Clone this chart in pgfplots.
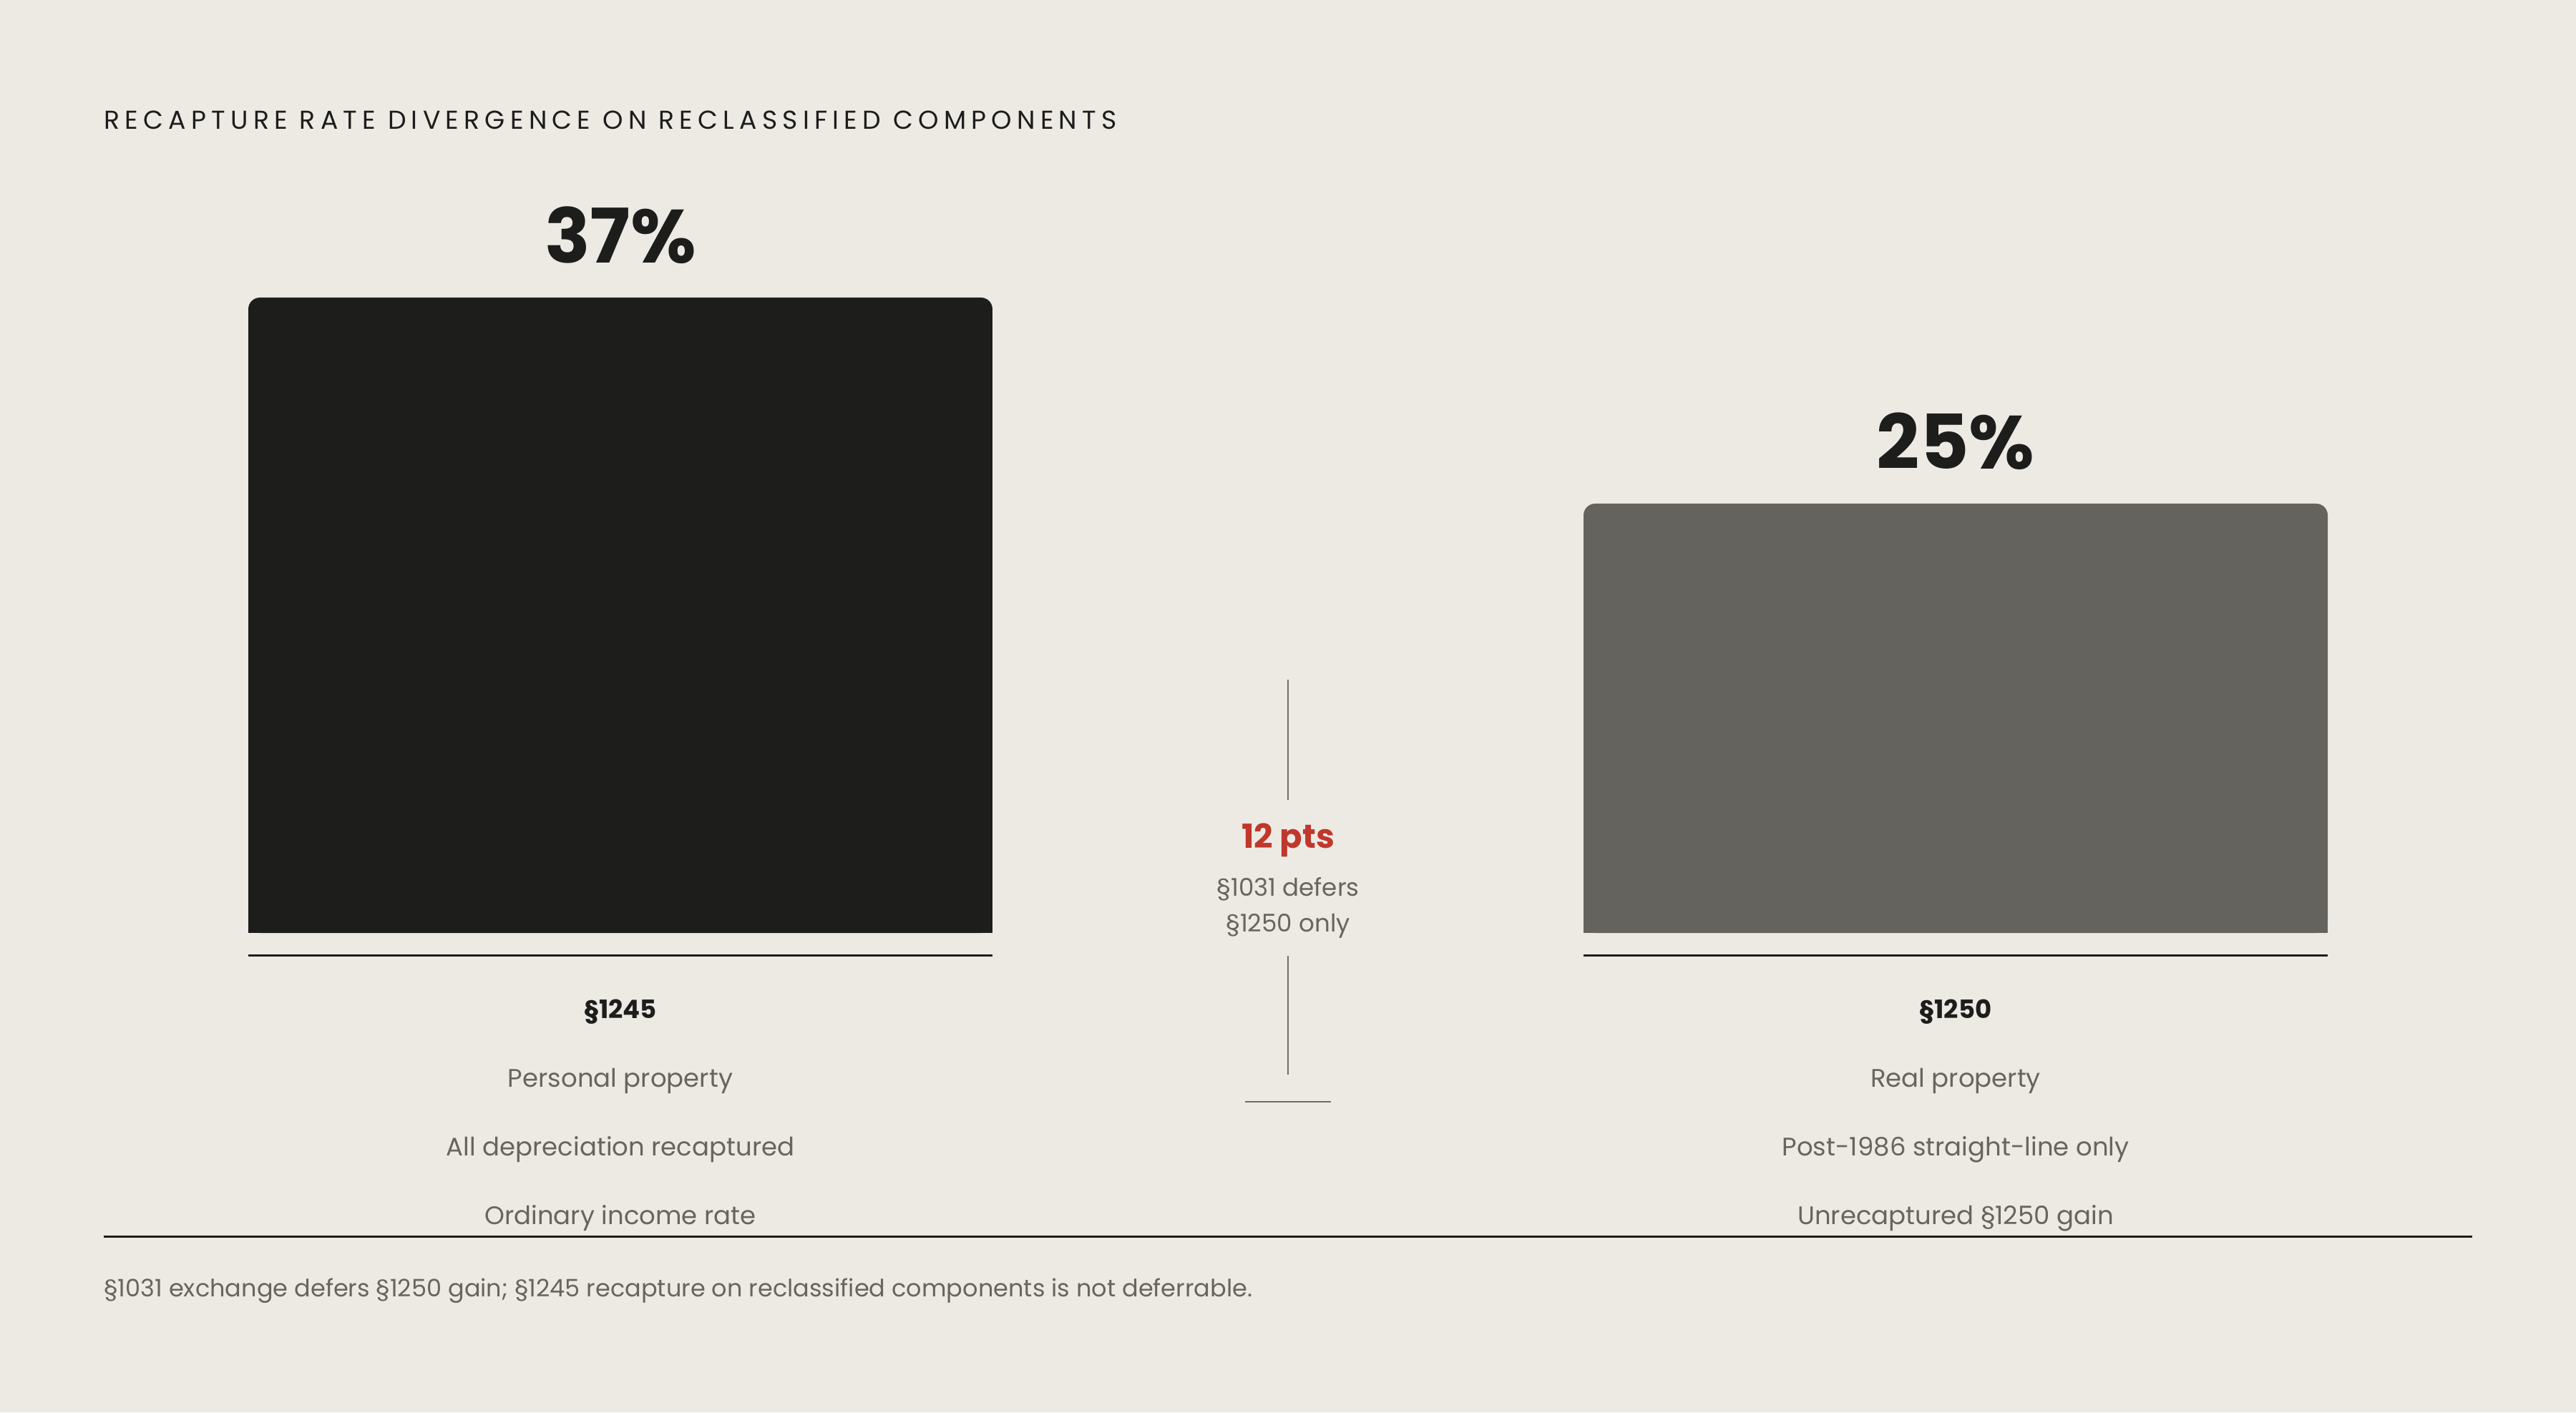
\documentclass[border=0pt]{standalone}
\usepackage{pgfplots}
\pgfplotsset{compat=1.18}
\usepackage{fontspec}
\setmainfont{Poppins}
\definecolor{bg}{HTML}{EDEAE4}
\definecolor{ink}{HTML}{1D1D1B}
\definecolor{bartwo}{HTML}{64635E}
\definecolor{muted}{HTML}{67655F}
\definecolor{accent}{HTML}{C0372C}
\definecolor{rulegray}{HTML}{6E6D68}
\begin{document}
\begin{tikzpicture}
\fill[bg] (0,0) rectangle (36cm,19.74cm);
\begin{axis}[
  at={(0,0)}, anchor=south west,
  width=36cm, height=19.74cm, scale only axis,
  xmin=-0.46463, xmax=1.46463, ymin=-27.9167, ymax=54.3333,
  axis line style={draw=none}, tick style={draw=none},
  ytick=\empty, xtick={0,1},
  xticklabels={{\textcolor{ink}{\bfseries §1245}\\Personal property\\All depreciation recaptured\\Ordinary income rate},
               {\textcolor{ink}{\bfseries §1250}\\Real property\\Post-1986 straight-line only\\Unrecaptured §1250 gain}},
  xticklabel style={anchor=north, align=center, inner sep=0pt, yshift=5.78cm,
    font=\fontsize{10.1}{27.3}\selectfont, text=muted},
  clip=false,
]
% bars (rounded tops)
\addplot[ybar, bar width=0.5573, bar shift=0pt, fill=ink, draw=none, rounded corners=0.16cm,
  nodes near coords={\pgfmathprintnumber[assume math mode=true]{\pgfplotspointmeta}\%},
  every node near coord/.append style={anchor=base, yshift=0.48cm, text=ink, font=\fontsize{30}{35}\selectfont\bfseries}]
  coordinates {(0,37)};
\addplot[ybar, bar width=0.5573, bar shift=0pt, fill=bartwo, draw=none, rounded corners=0.16cm,
  nodes near coords={\pgfmathprintnumber[assume math mode=true]{\pgfplotspointmeta}\%},
  every node near coord/.append style={anchor=base, yshift=0.48cm, text=ink, font=\fontsize{30}{35}\selectfont\bfseries}]
  coordinates {(1,25)};
% square off the bottom corners
\addplot[ybar, bar width=0.5573, bar shift=0pt, fill=ink, draw=none] coordinates {(0,10)};
\addplot[ybar, bar width=0.5573, bar shift=0pt, fill=bartwo, draw=none] coordinates {(1,10)};
% baselines under bars
\draw[ink, line width=0.85pt] (axis cs:-0.2787,-1.31) -- (axis cs:0.2787,-1.31);
\draw[ink, line width=0.85pt] (axis cs:0.7213,-1.31) -- (axis cs:1.2787,-1.31);
% title
\node[anchor=west, inner sep=0pt, text=ink, font=\fontsize{10.3}{12}\selectfont\addfontfeatures{LetterSpace=20}]
  at (axis cs:-0.387,47.33) {RECAPTURE RATE DIVERGENCE ON RECLASSIFIED COMPONENTS};
% middle annotation
\draw[rulegray, line width=0.75pt] (axis cs:0.5,14.75) -- (axis cs:0.5,7.75);
\draw[rulegray, line width=0.75pt] (axis cs:0.5,-1.33) -- (axis cs:0.5,-8.25);
\draw[rulegray, line width=0.75pt] (axis cs:0.468,-9.83) -- (axis cs:0.532,-9.83);
\node[anchor=base, inner sep=0pt, text=accent, font=\fontsize{13.2}{15}\selectfont\bfseries]
  at (axis cs:0.5,4.92) {12 pts};
\node[align=center, inner sep=0pt, text=muted, font=\fontsize{9.7}{14.2}\selectfont]
  at (axis cs:0.5,1.45) {§1031 defers\\§1250 only};
% bottom rule and footnote
\draw[ink, line width=0.8pt] (axis cs:-0.387,-17.68) -- (axis cs:1.387,-17.68);
\node[anchor=west, inner sep=0pt, text=muted, font=\fontsize{9.55}{11}\selectfont]
  at (axis cs:-0.387,-20.86) {§1031 exchange defers §1250 gain; §1245 recapture on reclassified components is not deferrable.};
\end{axis}
\end{tikzpicture}
\end{document}
